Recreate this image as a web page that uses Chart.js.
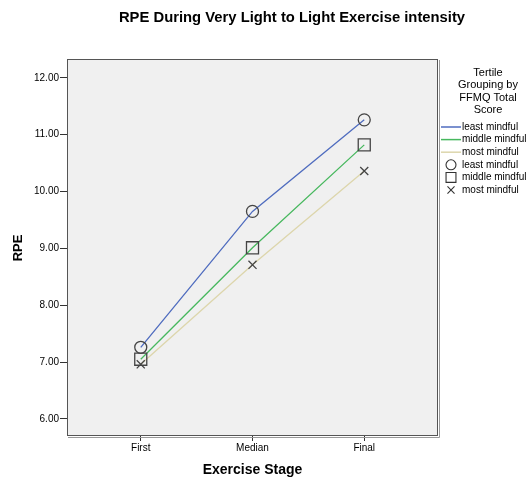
<!DOCTYPE html>
<html>
<head>
<meta charset="utf-8">
<script src="https://cdn.jsdelivr.net/npm/chart.js@4/dist/chart.umd.min.js"></script>
<style>
  html, body { margin: 0; padding: 0; background: #fff; }
  #wrap { width: 527px; height: 478px; }
</style>
</head>
<body>
<div id="wrap"><canvas id="chart" width="527" height="478"></canvas></div>
<script>
'use strict';

// data
let stages = ['First', 'Median', 'Final'];
let groupNames = ['least mindful', 'middle mindful', 'most mindful'];
let leastMindful = [7.26, 9.65, 11.26];
let middleMindful = [7.05, 9.01, 10.82];
let mostMindful = [6.96, 8.71, 10.36];
let yTicks = [6, 7, 8, 9, 10, 11, 12];

let lineColors = ['#4f6cbf', '#47b85e', '#ddd6ac'];
let markerStyles = ['circle', 'rect', 'crossRot'];
let markerSizes = [6, 8.5, 5.7];
let allSeries = [leastMindful, middleMindful, mostMindful];

const FONT = 'Arial, "Liberation Sans", sans-serif';

function makeDataset(i) {
  return {
    label: groupNames[i],
    data: allSeries[i].map((v, k) => ({ x: k, y: v })),
    borderColor: lineColors[i],
    borderWidth: 1.3,
    pointStyle: markerStyles[i],
    pointRadius: markerSizes[i],
    pointBorderColor: '#444',
    pointBackgroundColor: 'rgba(0,0,0,0)',
    pointBorderWidth: 1.3,
    tension: 0
  };
}

// titles + legend drawn by hand, SPSS style
const extras = {
  id: 'extras',
  beforeDraw(chart) {
    const { ctx, chartArea: a } = chart;
    ctx.save();
    ctx.fillStyle = '#f0f0f0';
    ctx.fillRect(a.left, a.top, a.right - a.left, a.bottom - a.top);
    ctx.restore();
  },
  afterDraw(chart) {
    const { ctx, chartArea: a } = chart;
    ctx.save();
    // frame with small shadow
    ctx.strokeStyle = '#999';
    ctx.lineWidth = 1;
    ctx.beginPath();
    ctx.moveTo(a.left + 1, a.bottom + 1.5);
    ctx.lineTo(a.right + 1.5, a.bottom + 1.5);
    ctx.lineTo(a.right + 1.5, a.top + 1);
    ctx.stroke();
    ctx.strokeStyle = '#555';
    ctx.strokeRect(a.left + 0.5, a.top + 0.5, a.right - a.left - 1, a.bottom - a.top - 1);

    ctx.fillStyle = '#000';
    ctx.textAlign = 'center';
    ctx.textBaseline = 'middle';
    ctx.font = 'bold 14.8px ' + FONT;
    ctx.fillText('RPE During Very Light to Light Exercise intensity', 292, 18);

    ctx.font = 'bold 14px ' + FONT;
    ctx.fillText('Exercise Stage', (a.left + a.right) / 2, 470);
    ctx.font = 'bold 13px ' + FONT;
    ctx.save();
    ctx.translate(18, 248);
    ctx.rotate(-Math.PI / 2);
    ctx.fillText('RPE', 0, 0);
    ctx.restore();

    // legend
    ctx.font = '11px ' + FONT;
    let titleLines = ['Tertile', 'Grouping by', 'FFMQ Total', 'Score'];
    titleLines.forEach((t, i) => ctx.fillText(t, 488, 73 + i * 12.3));
    ctx.textAlign = 'left';
    ctx.font = '10px ' + FONT;
    let rowY = 127;
    for (let i = 0; i < 3; i++) {
      ctx.strokeStyle = lineColors[i];
      ctx.lineWidth = 1.5;
      ctx.beginPath();
      ctx.moveTo(441, rowY);
      ctx.lineTo(461, rowY);
      ctx.stroke();
      ctx.fillStyle = '#000';
      ctx.fillText(groupNames[i], 462, rowY);
      rowY += 12.6;
    }
    for (let i = 0; i < 3; i++) {
      ctx.strokeStyle = '#333';
      ctx.fillStyle = 'rgba(0,0,0,0)';
      ctx.lineWidth = 1.1;
      Chart.helpers.drawPoint(ctx, {
        pointStyle: markerStyles[i],
        radius: [5, 7, 5][i],
        rotation: 0,
        borderWidth: 1.1
      }, 451, rowY);
      ctx.fillStyle = '#000';
      ctx.fillText(groupNames[i], 462, rowY);
      rowY += 12.6;
    }
    ctx.restore();
  }
};

const ctx = document.getElementById('chart').getContext('2d');
const myChart = new Chart(ctx, {
  type: 'line',
  data: {
    datasets: [makeDataset(0), makeDataset(1), makeDataset(2)]
  },
  options: {
    responsive: false,
    animation: false,
    events: [],
    layout: { padding: { left: 0, top: 59, right: 89, bottom: 0 } },
    plugins: {
      legend: { display: false },
      title: { display: false },
      tooltip: { enabled: false }
    },
    scales: {
      x: {
        type: 'linear',
        min: -0.66,
        max: 2.66,
        afterBuildTicks: (s) => { s.ticks = stages.map((_, k) => ({ value: k })); },
        afterFit: (s) => { s.height = 42; },
        ticks: {
          callback: (v) => stages[v],
          color: '#000',
          font: { family: FONT, size: 10 },
          padding: 1,
          maxRotation: 0
        },
        grid: { drawOnChartArea: false, tickLength: 5, color: '#333' },
        border: { display: false }
      },
      y: {
        min: 5.7,
        max: 12.33,
        afterBuildTicks: (s) => { s.ticks = yTicks.map((v) => ({ value: v })); },
        afterFit: (s) => { s.width = 67; },
        ticks: {
          callback: (v) => v.toFixed(2),
          color: '#000',
          font: { family: FONT, size: 10 },
          padding: 1
        },
        grid: { drawOnChartArea: false, tickLength: 7, color: '#333' },
        border: { display: false }
      }
    }
  },
  plugins: [extras]
});
</script>
</body>
</html>
